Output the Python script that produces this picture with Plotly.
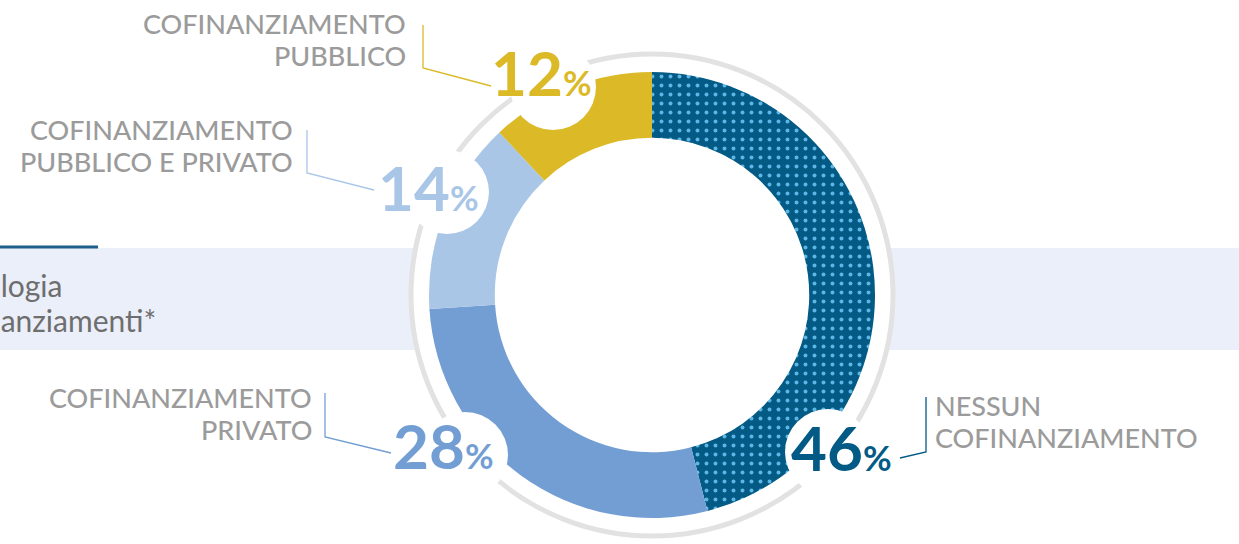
import plotly.graph_objects as go

W, H = 1239, 544

# ---- data ----
categories = ["NESSUN COFINANZIAMENTO", "COFINANZIAMENTO PRIVATO",
              "COFINANZIAMENTO PUBBLICO E PRIVATO", "COFINANZIAMENTO PUBBLICO"]
label_lines = [["NESSUN", "COFINANZIAMENTO"], ["COFINANZIAMENTO", "PRIVATO"],
               ["COFINANZIAMENTO", "PUBBLICO E PRIVATO"], ["COFINANZIAMENTO", "PUBBLICO"]]
values = [46, 28, 14, 12]
pct_labels = ["46", "28", "14", "12"]
colors = ["#035b85", "#739ed3", "#a9c6e7", "#dbb927"]
patterns = [".", "", "", ""]
title_lines = ["Tipologia", "cofinanziamenti*"]


def px(x):
    return x / W


def py(y):
    return 1 - y / H


cx, cy, R = 652, 295, 223

fig = go.Figure()
fig.add_trace(go.Pie(
    labels=categories, values=values, sort=False, direction="clockwise", rotation=0,
    hole=0.705, textinfo="none", hoverinfo="label+percent", showlegend=False,
    marker=dict(colors=colors, line=dict(width=0),
                pattern=dict(shape=patterns, fgcolor="#5cb6e6", bgcolor=colors,
                             size=9, solidity=0.15)),
    domain=dict(x=[px(cx - R), px(cx + R)], y=[py(cy + R), py(cy - R)]),
))

shapes = []
# background band
shapes.append(dict(type="rect", xref="paper", yref="paper", x0=0, x1=1, y0=py(350), y1=py(248),
                   fillcolor="#ebeff9", line=dict(width=0), layer="below"))
# dark line top-left
shapes.append(dict(type="line", xref="paper", yref="paper", x0=0, x1=px(98), y0=py(247), y1=py(247),
                   line=dict(color="#1d5f8c", width=3), layer="below"))
# white disk with grey ring
RR = 241
shapes.append(dict(type="circle", xref="paper", yref="paper", x0=px(cx - RR), x1=px(cx + RR),
                   y0=py(cy + RR), y1=py(cy - RR), fillcolor="white",
                   line=dict(color="#e2e2e2", width=5), layer="below"))
# white circles behind percentage labels
label_circles = [(828, 452, 43), (465, 455, 43), (447, 192, 42), (553, 87, 43)]
for (x, y, r) in label_circles:
    shapes.append(dict(type="circle", xref="paper", yref="paper", x0=px(x - r), x1=px(x + r),
                       y0=py(y + r), y1=py(y - r), fillcolor="white", line=dict(width=0), layer="above"))
# leader lines
leaders = [
    ([(926, 397), (926, 452), (900, 458)], colors[0]),
    ([(325, 393), (325, 437), (391, 453)], colors[1]),
    ([(307, 130), (307, 173), (374, 190)], colors[2]),
    ([(423, 25), (423, 68), (491, 86)], colors[3]),
]
for pts, col in leaders:
    path = "M " + " L ".join(f"{px(x)},{py(y)}" for x, y in pts)
    shapes.append(dict(type="path", xref="paper", yref="paper", path=path,
                       line=dict(color=col, width=1.3), layer="above"))

annotations = []
# percentage labels
pct_pos = [(841, 447), (443, 445), (428, 187), (541, 72)]
for lab, col, (x, y) in zip(pct_labels, colors, pct_pos):
    annotations.append(dict(xref="paper", yref="paper", x=px(x), y=py(y), xanchor="center", yanchor="middle",
                            text=f"{lab}<span style='font-size:35px'>%</span>", showarrow=False,
                            font=dict(family="Lato", size=62, color=col, weight=700)))
# category labels (one annotation per line)
cat_pos = [
    (933, [405.5, 437.5], "left"),
    (314, [397, 429], "right"),
    (295, [129.5, 161.5], "right"),
    (408, [24, 55.5], "right"),
]
for lines, (x, ys, al) in zip(label_lines, cat_pos):
    for t, y in zip(lines, ys):
        annotations.append(dict(xref="paper", yref="paper", x=px(x), y=py(y), xanchor=al, yanchor="middle",
                                align=al, text=t, showarrow=False,
                                font=dict(family="Lato", size=27, color="#9b9b9b", weight=500)))
# title (cut at left edge, as in the reference)
annotations.append(dict(xref="paper", yref="paper", x=px(64), y=py(285), xanchor="right", yanchor="middle",
                        text=title_lines[0], showarrow=False, font=dict(family="Lato", size=30, color="#6e6e6e")))
annotations.append(dict(xref="paper", yref="paper", x=px(158), y=py(320), xanchor="right", yanchor="middle",
                        text=title_lines[1], showarrow=False, font=dict(family="Lato", size=30, color="#6e6e6e")))

fig.update_layout(width=W, height=H, margin=dict(l=0, r=0, t=0, b=0),
                  paper_bgcolor="white", plot_bgcolor="white",
                  shapes=shapes, annotations=annotations)
fig.write_html("out.html", config={"displayModeBar": False},
               post_script="document.body.style.margin='0';document.body.style.overflow='hidden';")
